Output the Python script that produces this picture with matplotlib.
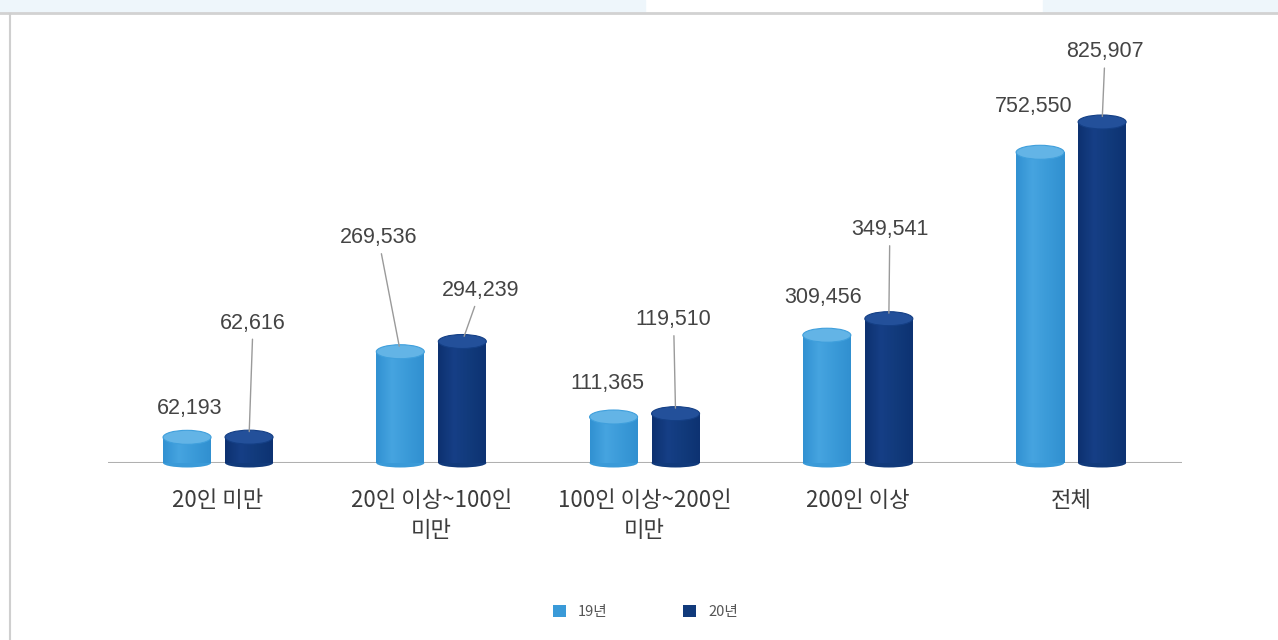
import matplotlib
matplotlib.use("Agg")
import matplotlib.pyplot as plt
import numpy as np
from matplotlib.patches import Rectangle, Ellipse, Patch
from matplotlib.colors import LinearSegmentedColormap
from matplotlib.lines import Line2D

plt.rcParams['font.family'] = ['Noto Sans CJK KR', 'DejaVu Sans']

categories = ["20인 미만", "20인 이상~100인\n미만", "100인 이상~200인\n미만", "200인 이상", "전체"]
series_names = ["19년", "20년"]
values_19 = [62193, 269536, 111365, 309456, 752550]
values_20 = [62616, 294239, 119510, 349541, 825907]

# label offsets in pixels from each bar top (dx, dy, leader line?)
offsets_19 = [(3, 29, False), (-22, 114, True), (-6, 34, False), (-4, 38, False), (-6, 46, False)]
offsets_20 = [(4, 114, True), (18, 51, True), (-2, 94, True), (1, 89, True), (3, 70, True)]

light = {"body": ["#3191d2", "#46a4e0", "#3a9ad8", "#3190d0"], "top": "#63b4e6", "edge": "#3f9fdc"}
dark = {"body": ["#0d3170", "#163f86", "#113a7b", "#0d3272"], "top": "#23509a", "edge": "#143f85"}

W, H = 1278, 640
fig = plt.figure(figsize=(W / 100, H / 100), dpi=100)

# page decorations: top strip and left rule
fig.patches.append(Rectangle((0, 1 - 12 / H), 645 / W, 12 / H, transform=fig.transFigure,
                             color="#eef6fb", zorder=0))
fig.patches.append(Rectangle((1043 / W, 1 - 12 / H), 1 - 1043 / W, 12 / H, transform=fig.transFigure,
                             color="#eef6fb", zorder=0))
fig.lines.append(Line2D([0, 1], [1 - 13 / H] * 2, transform=fig.transFigure, color="#d2d2d2", lw=2))
fig.lines.append(Line2D([10 / W] * 2, [0, 1 - 14 / H], transform=fig.transFigure, color="#cfcfcf", lw=1.5))

base_px = 463
top_px = 15
ax = fig.add_axes([108 / W, (H - base_px) / H, 1074 / W, (base_px - top_px) / H])
px_per_unit = 341 / 825907
ymax = (base_px - top_px) / px_per_unit
ax.set_xlim(-0.516, 4.52)
ax.set_ylim(0, ymax)
for s in ax.spines.values():
    s.set_visible(False)
ax.tick_params(length=0)
ax.set_yticks([])

unit_px = 1074 / (4.52 + 0.516)
bar_w = 48 / unit_px
shift = 31 / unit_px
top_h = 14 / px_per_unit
bot_h = 9 / px_per_unit

ax.axhline(0, color="#b0b0b0", lw=2.2, zorder=1)


def cylinder(x, v, style):
    x0 = x - bar_w / 2
    cmap = LinearSegmentedColormap.from_list("c", style["body"])
    grad = np.linspace(0, 1, 64).reshape(1, -1)
    bottom = Ellipse((x, 0), bar_w, bot_h, facecolor=style["body"][2], edgecolor="none",
                     zorder=2, clip_on=False)
    ax.add_patch(bottom)
    body = Rectangle((x0, 0), bar_w, v, facecolor="none", edgecolor="none", zorder=3)
    ax.add_patch(body)
    im = ax.imshow(grad, cmap=cmap, extent=(x0, x0 + bar_w, 0, v), aspect="auto", zorder=3,
                   interpolation="bicubic")
    im.set_clip_path(body)
    bottom_im = ax.imshow(grad, cmap=cmap, extent=(x0, x0 + bar_w, -bot_h / 2, 0), aspect="auto",
                          zorder=2, interpolation="bicubic")
    bottom_im.set_clip_path(bottom)
    ax.add_patch(Ellipse((x, v), bar_w, top_h, facecolor=style["top"], edgecolor=style["edge"],
                         lw=0.8, zorder=4))


def value_label(x, v, off):
    dx, dy, line = off
    arrow = dict(arrowstyle="-", color="#9a9a9a", lw=1, shrinkA=2, shrinkB=4) if line else None
    ax.annotate(f"{v:,}", xy=(x, v), xytext=(dx, dy), textcoords="offset pixels",
                ha="center", va="center", fontsize=15.5, color="#444444",
                family=["Liberation Sans", "DejaVu Sans"],
                arrowprops=arrow, zorder=5, annotation_clip=False)


xs = np.arange(len(categories))
for i, x in enumerate(xs):
    cylinder(x - shift, values_19[i], light)
    cylinder(x + shift, values_20[i], dark)
    value_label(x - shift, values_19[i], offsets_19[i])
    value_label(x + shift, values_20[i], offsets_20[i])

ax.set_xticks(xs)
ax.set_xticklabels(categories, fontsize=16, color="#3c3c3c", linespacing=1.35)
ax.tick_params(axis="x", pad=19)

handles = [Patch(facecolor=light["body"][2]), Patch(facecolor=dark["body"][2])]
fig.legend(handles, series_names, loc="center", bbox_to_anchor=(0.505, 1 - 612 / H), ncol=2,
           frameon=False, fontsize=10.5, labelcolor="#555555", handlelength=0.9, handleheight=0.9,
           columnspacing=5.2, handletextpad=0.8)

fig.savefig("out.png", dpi=100)
